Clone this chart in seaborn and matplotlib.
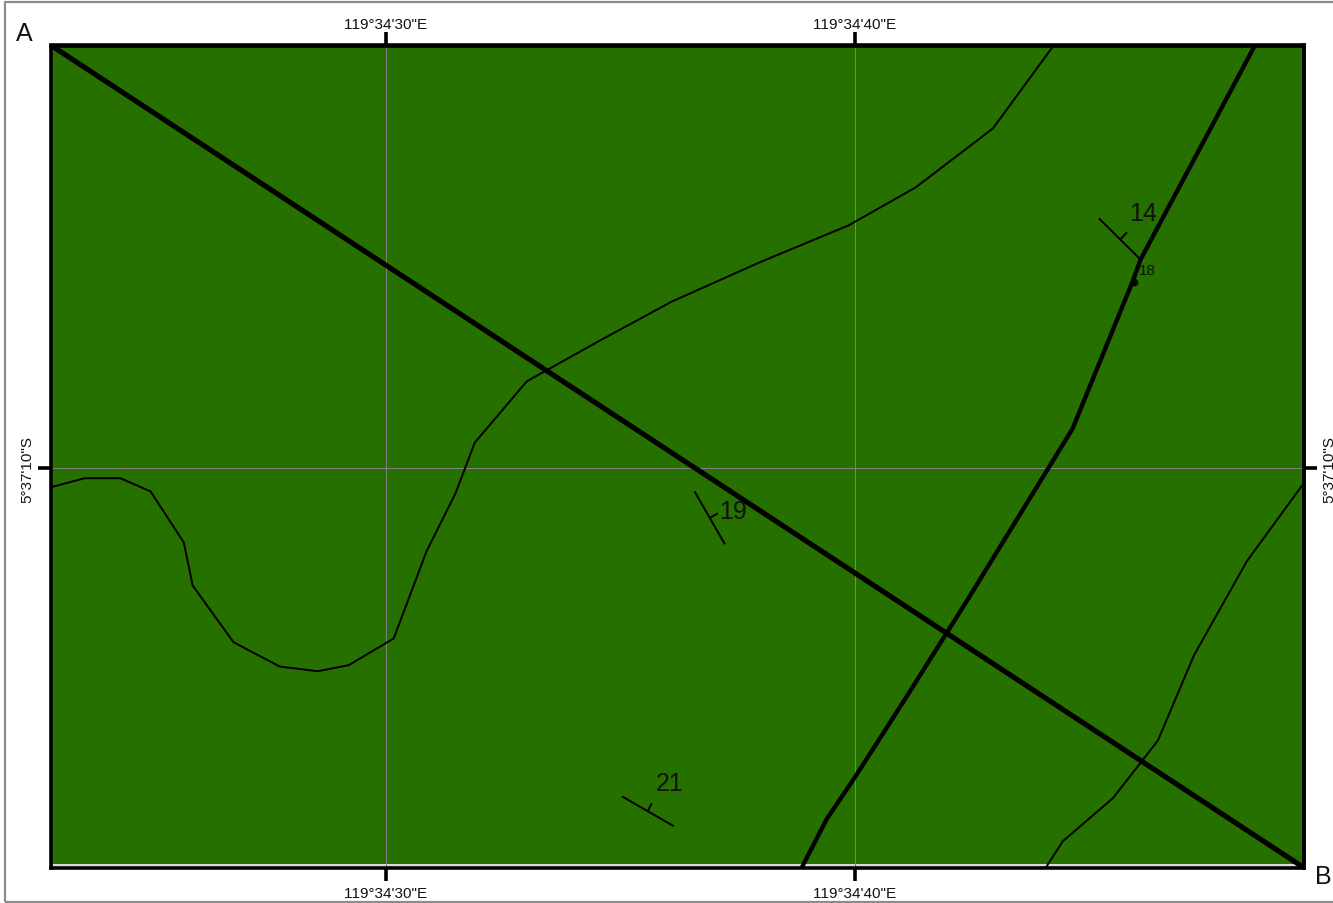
import matplotlib
matplotlib.use("Agg")
import matplotlib.pyplot as plt
from matplotlib.patches import Rectangle
import seaborn as sns

# map coords: arcseconds past 119°34' E and past 5°37' S
lon_limits = [22.85, 49.58]
lat_limits = [18.52, 0.97]
lon_ticks = [30, 40]
lon_labels = ["119°34'30\"E", "119°34'40\"E"]
lat_ticks = [10]
lat_labels = ["5°37'10\"S"]

# cross section A-B
section_lon = [22.85, 49.58]
section_lat = [0.97, 18.52]

# fault
fault_lon = [38.87, 39.40, 40.00, 41.07, 42.41, 44.65, 45.93, 46.10, 48.54]
fault_lat = [18.52, 17.49, 16.60, 14.93, 12.80, 9.15, 6.01, 5.54, 0.97]

# thin contacts
contact1_lon = [22.85, 23.56, 24.33, 24.97, 25.68, 25.87, 26.74, 27.73, 28.54, 29.20, 30.16,
                30.86, 31.48, 31.89, 33.00, 34.56, 36.09, 37.97, 39.87, 41.30, 42.95, 44.23]
contact1_lat = [10.40, 10.21, 10.21, 10.49, 11.58, 12.50, 13.71, 14.23, 14.33, 14.20, 13.63,
                11.77, 10.53, 9.45, 8.14, 7.27, 6.44, 5.60, 4.81, 4.00, 2.74, 0.99]
contact2_lon = [44.08, 44.44, 45.51, 46.47, 47.24, 48.37, 49.58]
contact2_lat = [18.52, 17.96, 17.04, 15.81, 13.99, 11.98, 10.32]

# strike and dip symbols: strike ends, dip tick ends, label position
dip_values = ["14", "19", "21"]
strike_lon = [[45.21, 46.10], [36.58, 37.23], [35.03, 36.14]]
strike_lat = [[4.66, 5.54], [10.49, 11.62], [17.00, 17.64]]
tick_lon = [[45.67, 45.81], [36.91, 37.08], [35.58, 35.67]]
tick_lat = [[5.11, 4.96], [11.05, 10.96], [17.32, 17.15]]
dip_label_lon = [46.15, 37.40, 36.05]
dip_label_lat = [4.55, 10.90, 16.72]

# sample station
station_lon = [45.95]
station_lat = [6.01]
station_label = "18"
station_label_lon = 46.25
station_label_lat = 5.77

GREEN = "#267000"
TICK_STYLE = dict(direction="out", length=9.5, width=2.6, color="black", labelsize=11,
                  labelcolor="#111111")


def draw_line(ax, lons, lats, width):
    sns.lineplot(x=lons, y=lats, ax=ax, sort=False, estimator=None, color="black",
                 linewidth=width, solid_capstyle="butt", zorder=3)


sns.set_theme(style="white")
plt.rcParams["font.family"] = ["Liberation Sans", "DejaVu Sans"]
# no pair kerning, the "11" in the labels stays wide like the original
plt.rcParams["text.kerning_factor"] = 16

fig = plt.figure(figsize=(13.33, 9.04), dpi=100)
ax = fig.add_axes([51.2 / 1333, 1 - 868.5 / 904, (1303.6 - 51.2) / 1333, (868.5 - 46.5) / 904])
ax.set_facecolor("#d9d9d9")

# page border
fig.add_artist(Rectangle((5 / 1333, 1 / 904), 1.01, 900 / 904, transform=fig.transFigure,
                         fill=False, edgecolor="#8c8c8c", linewidth=1.6))

# green unit stops just short of the bottom frame
ax.axhspan(lat_limits[1], lat_limits[0] - 0.07, color=GREEN, linewidth=0, zorder=0)

ax.axvline(lon_ticks[0], color="#808080", linewidth=0.72, zorder=1)
ax.axvline(lon_ticks[1], color="#808080", linewidth=0.72, zorder=1)
ax.axhline(lat_ticks[0], color="#808080", linewidth=0.72, zorder=1)

draw_line(ax, contact1_lon, contact1_lat, 1.4)
draw_line(ax, contact2_lon, contact2_lat, 1.4)
draw_line(ax, fault_lon, fault_lat, 3.1)
draw_line(ax, section_lon, section_lat, 3.7)

for i in range(len(dip_values)):
    draw_line(ax, strike_lon[i], strike_lat[i], 1.4)
    draw_line(ax, tick_lon[i], tick_lat[i], 1.4)
    ax.text(dip_label_lon[i], dip_label_lat[i], dip_values[i], fontsize=18, color="#111111",
            ha="center", va="center", zorder=4)

sns.scatterplot(x=station_lon, y=station_lat, ax=ax, color="black", s=30, linewidth=0, zorder=4)
ax.text(station_label_lon, station_label_lat, station_label, fontsize=11, color="#111111",
        ha="center", va="center", zorder=4)

ax.set_xlim(lon_limits)
ax.set_ylim(lat_limits)
ax.set_xticks(lon_ticks)
ax.set_xticklabels(lon_labels)
ax.set_yticks(lat_ticks)
ax.set_yticklabels(lat_labels, rotation=90, va="center")
ax.tick_params(axis="x", pad=4.0, bottom=True, **TICK_STYLE)
ax.tick_params(axis="y", pad=2.4, left=True, **TICK_STYLE)

# top and right labels sit at their own distance from the frame
top_axis = ax.secondary_xaxis("top")
top_axis.set_xticks(lon_ticks)
top_axis.set_xticklabels(lon_labels)
top_axis.tick_params(axis="x", pad=1.2, **TICK_STYLE)
right_axis = ax.secondary_yaxis("right")
right_axis.set_yticks(lat_ticks)
right_axis.set_yticklabels(lat_labels, rotation=90, va="center")
right_axis.tick_params(axis="y", pad=4.0, **TICK_STYLE)

for axis in [ax, top_axis, right_axis]:
    for side in axis.spines.values():
        side.set_color("black")
        side.set_linewidth(2.6)
        side.set_zorder(5)

fig.text(24 / 1333, 1 - 34 / 904, "A", fontsize=18, color="#111111", ha="center", va="center")
fig.text(1323 / 1333, 1 - 877 / 904, "B", fontsize=18, color="#111111", ha="center", va="center")

fig.savefig("out.png", dpi=100)
